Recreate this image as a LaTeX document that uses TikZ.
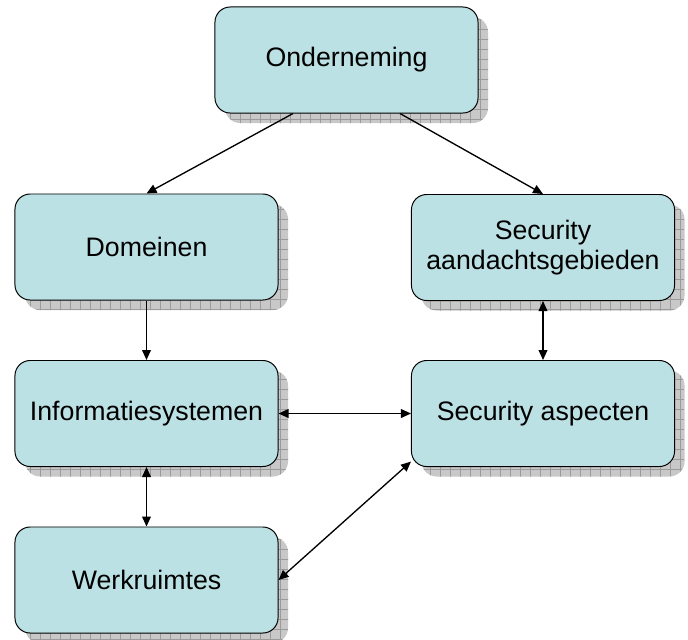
\documentclass[tikz,border=0pt]{standalone}
\usepackage{fontspec}
\setmainfont{Liberation Sans}
\usetikzlibrary{arrows.meta}
\usetikzlibrary{shadows}
\usetikzlibrary{patterns.meta}
\usetikzlibrary{positioning}

\definecolor{boxfill}{RGB}{188,225,228}
\definecolor{shadowfill}{RGB}{200,200,200}
\definecolor{shadowgrid}{RGB}{155,155,155}

\tikzset{
  block/.style={draw=black, line width=0.7pt, rounded corners=0.38cm, fill=boxfill,
    minimum width=6.575cm, minimum height=2.65cm, align=center,
    font=\fontsize{19}{21.5}\selectfont,
    general shadow={shadow xshift=0.25cm, shadow yshift=-0.25cm, fill=shadowfill},
    general shadow={shadow xshift=0.25cm, shadow yshift=-0.25cm,
      pattern={Hatch[angle=0,distance=0.25cm,line width=0.45pt]}, pattern color=shadowgrid}},
  link/.style={line width=0.95pt, -{Triangle[length=0.25cm,width=0.22cm]}},
  twoway/.style={line width=0.95pt, {Triangle[length=0.25cm,width=0.22cm]}-{Triangle[length=0.25cm,width=0.22cm]}}
}

\begin{document}
\begin{tikzpicture}[x=0.025cm,y=-0.025cm]
\useasboundingbox (0,0) rectangle (688,639);

\node[block] (Ond) at (346.5,60) {Onderneming};
\node[block] (Dom) at (146.5,247) {Domeinen};
\node[block] (SecA) at (543,247.5) {Security\\aandachtsgebieden};
\node[block] (Info) at (146.5,413.5) {Informatiesystemen};
\node[block] (SecB) at (543,413.5) {Security aspecten};
\node[block] (Werk) at (146.5,580) {Werkruimtes};

\draw[link] (Ond.225) -- (Dom.north);
\draw[link] (Ond.315) -- (SecA.north);
\draw[link] (Dom.south) -- (Info.north);
\draw[twoway] (SecA.south) -- (SecB.north);
\draw[twoway] (Info.east) -- (SecB.west);
\draw[twoway] (Info.south) -- (Werk.north);
\draw[twoway] (SecB.200) -- (Werk.east);

\end{tikzpicture}
\end{document}
